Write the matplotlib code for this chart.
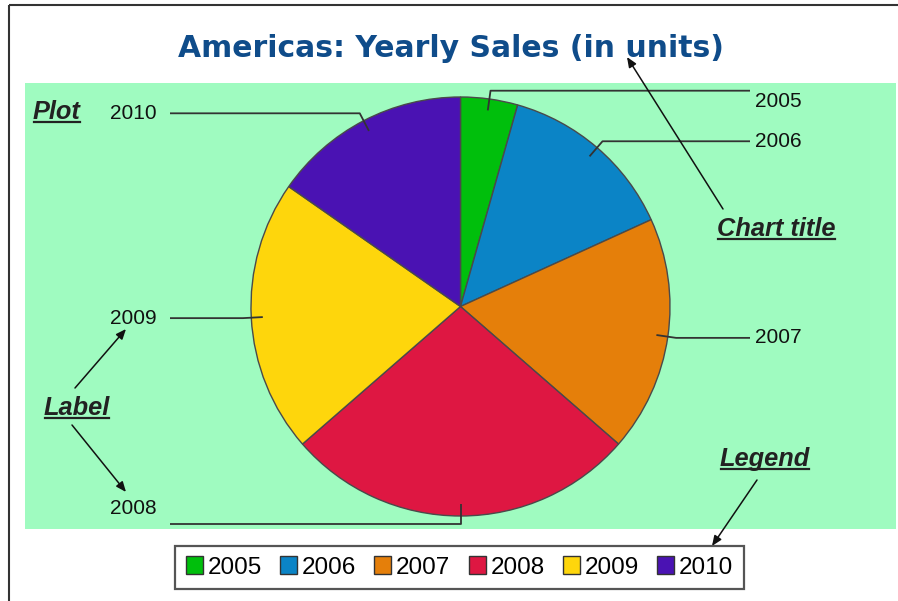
import numpy as np
import matplotlib
matplotlib.use("Agg")
import matplotlib.pyplot as plt
from matplotlib.patches import Rectangle, Patch

# ---- data -----------------------------------------------------------------
years = ["2005", "2006", "2007", "2008", "2009", "2010"]
units = [44, 138, 182, 272, 211, 153]
colors = ["#00BF0C", "#0B84C6", "#E57F0A", "#DE1742", "#FED60C", "#4A12B3"]

TITLE = "Americas: Yearly Sales (in units)"
TITLE_C = "#0F4C8A"
MINT = "#9FFBC0"
INK = "#222222"

W, H = 898, 601
fig = plt.figure(figsize=(W / 100, H / 100), dpi=100)
ax = fig.add_axes([0, 0, 1, 1])

# pixel-like coordinates, y grows downwards
cx, cy, R = 460.5, 306.5, 209.5

ax.pie(units, colors=colors, center=(cx, cy), radius=R, startangle=-90,
       counterclock=True, frame=True,
       wedgeprops=dict(edgecolor="#4A4A4A", linewidth=1.0, zorder=3))
ax.set_aspect("auto")
ax.set_xlim(0, W)
ax.set_ylim(H, 0)
ax.set_axis_off()

# outer frame and plot area
ax.add_patch(Rectangle((9, 5), 1000, 700, fill=False, ec="#333333", lw=1.5, zorder=0))
ax.add_patch(Rectangle((25, 83), 871, 446, fc=MINT, ec="none", zorder=1))

ax.text(451, 57, TITLE, fontsize=21.5, fontweight="bold", color=TITLE_C,
        family="DejaVu Sans", ha="center", va="baseline")

# leader lines + data labels
frac = np.array(units) / np.sum(units)
ends = np.cumsum(frac) * 360
mids = ends - frac * 180
label_dy = {"2005": 11, "2008": -16}
for yr, th in zip(years, mids):
    t = np.radians(th)
    sx, sy = cx + 0.945 * R * np.sin(t), cy - 0.945 * R * np.cos(t)
    ex, ey = cx + 1.04 * R * np.sin(t), cy - 1.04 * R * np.cos(t)
    if 0.5 < th < 180:
        hx, tx, ha = 750, 755, "left"
    else:
        hx, tx, ha = 170, 157, "right"
    ax.plot([sx, ex, hx], [sy, ey, ey], color="#333333", lw=1.3, zorder=4,
            solid_capstyle="butt")
    ax.text(tx, ey + label_dy.get(yr, 0), yr, fontsize=15, family="Liberation Sans",
            color="#111111", ha=ha, va="center", zorder=5)

# callout notes
notes = [("Plot", 33, 119), ("Chart title", 717, 236),
         ("Label", 44, 415), ("Legend", 720, 466)]
note_txt = []
for s, x, y in notes:
    note_txt.append(ax.text(x, y, s, fontsize=18.3, family="Liberation Sans",
                            fontweight="bold", fontstyle="italic", color=INK,
                            ha="left", va="baseline", zorder=6))

arrows = [((723, 209), (627, 57)),
          ((75, 388), (126, 329)),
          ((72, 425), (126, 492)),
          ((757, 480), (712, 546))]
for (x0, y0), (x1, y1) in arrows:
    ax.annotate("", xy=(x1, y1), xytext=(x0, y0),
                arrowprops=dict(arrowstyle="-|>,head_length=0.6,head_width=0.25",
                                color="#111111", lw=1.1, shrinkA=0, shrinkB=0),
                zorder=7)

# legend
handles = [Patch(fc=c, ec="#333333", lw=1.0, label=y) for y, c in zip(years, colors)]
leg = fig.legend(handles=handles, loc="center", ncol=6,
                 prop={"family": "Liberation Sans", "size": 17.5},
                 bbox_to_anchor=(459.5 / W, 1 - 567.5 / H),
                 frameon=True, fancybox=False, shadow=False,
                 handlelength=0.7, handleheight=0.7, handletextpad=0.2,
                 columnspacing=0.75, borderpad=0.42, borderaxespad=0)
leg.get_frame().set_edgecolor("#2A2A2A")
leg.get_frame().set_linewidth(1.6)

# underline the callout notes
fig.canvas.draw()
rend = fig.canvas.get_renderer()
inv = ax.transData.inverted()
for t, (s, x, y) in zip(note_txt, notes):
    bb = t.get_window_extent(rend)
    x0 = inv.transform((bb.x0, bb.y0))[0]
    x1 = inv.transform((bb.x1, bb.y0))[0]
    ax.plot([x0 + 1, x1 - 1], [y + 3, y + 3], color=INK, lw=1.6, zorder=6)

fig.savefig("out.png", dpi=100)
